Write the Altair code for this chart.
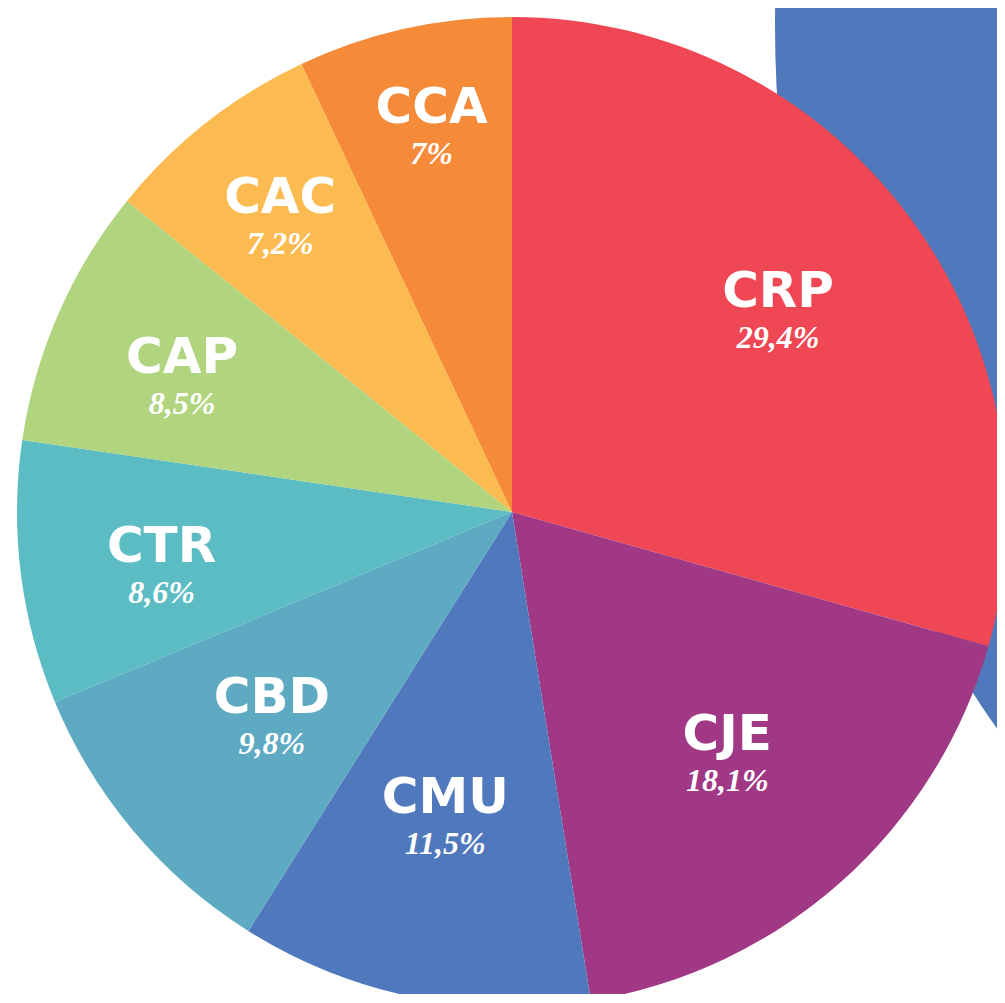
import altair as alt
import pandas as pd

# Data
categories = ["CRP", "CJE", "CMU", "CBD", "CTR", "CAP", "CAC", "CCA"]
shares = [29.4, 18.1, 11.5, 9.8, 8.6, 8.5, 7.2, 7.0]
pct_labels = ["29,4%", "18,1%", "11,5%", "9,8%", "8,6%", "8,5%", "7,2%", "7%"]

# Styling / layout (label placement, in pixels / degrees)
colors = ["#EF4753", "#A03885", "#5078BC", "#5FAAC3", "#5BBCC4", "#B0D57E", "#FCBB50", "#F58A38"]
label_radius = [336, 321, 308, 313, 354, 358, 378, 397]
label_nudge_deg = [-0.5, -0.4, 1.0, 0.3, -1.0, -0.8, 0.3, 0.9]

df = pd.DataFrame({
    "cat": categories,
    "share": shares,
    "pct": pct_labels,
    "order": list(range(len(categories))),
    "lr": label_radius,
    "nudge": label_nudge_deg,
})

CX, CY, R = 504, 504, 495
TOTAL = float(sum(shares))

color_scale = alt.Scale(domain=categories, range=colors)
theta_scale = alt.Scale(domain=[0, TOTAL], range=[0, 6.283185307])

bg = alt.Chart(pd.DataFrame({"a": [1]})).mark_arc(
    radius=1226, theta=0, theta2=6.2832, color="#5078BC"
).encode(x=alt.value(1993), y=alt.value(17))

base = alt.Chart(df).transform_window(
    end="sum(share)", sort=[alt.SortField("order")], frame=[None, 0]
).transform_calculate(
    start="datum.end - datum.share",
    mid=f"datum.end - datum.share / 2 + datum.nudge * {TOTAL} / 360",
).encode(x=alt.value(CX), y=alt.value(CY))

pie = base.mark_arc(radius=R, strokeWidth=0).encode(
    theta=alt.Theta("start:Q", scale=theta_scale),
    theta2="end:Q",
    color=alt.Color("cat:N", scale=color_scale, legend=None),
)

names = base.mark_text(
    font="DejaVu Sans", fontWeight="bold", fontSize=50, color="white",
    align="center", baseline="alphabetic"
).encode(
    theta=alt.Theta("mid:Q", scale=theta_scale),
    radius=alt.Radius("lr:Q", scale=None),
    text="cat:N",
)

pcts = base.mark_text(
    font="Liberation Serif", fontWeight="bold", fontStyle="italic", fontSize=32,
    color="white", align="center", baseline="alphabetic", dy=41
).encode(
    theta=alt.Theta("mid:Q", scale=theta_scale),
    radius=alt.Radius("lr:Q", scale=None),
    text="pct:N",
)

chart = alt.layer(bg, pie, names, pcts).properties(
    width=989, height=986, padding=0, autosize=alt.AutoSizeParams(type="none")
).configure_view(stroke=None)

chart.save("out.html", embed_options={"renderer": "svg", "actions": False})
